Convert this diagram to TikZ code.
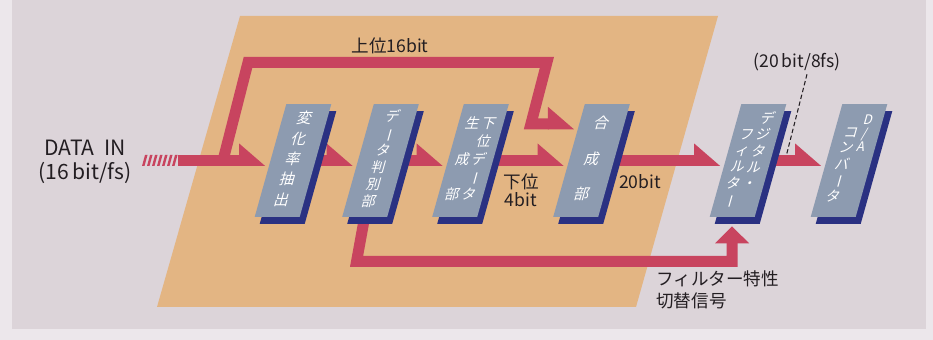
\documentclass[tikz,border=0pt]{standalone}
\usepackage{fontspec}
\setmainfont{Noto Sans CJK JP}
\usepackage{graphicx}
\usepackage{tikz}
\usetikzlibrary{arrows.meta, calc, shadows}
\definecolor{panel}{HTML}{DCD4D9}
\definecolor{rim}{HTML}{ECE7EB}
\definecolor{tan}{HTML}{E3B583}
\definecolor{flowred}{HTML}{C8445F}
\definecolor{slab}{HTML}{8D9BB0}
\definecolor{slabside}{HTML}{2A3182}
\definecolor{ink}{HTML}{231E22}
\pgfdeclarelayer{back}
\pgfdeclarelayer{flow}
\pgfsetlayers{back,flow,main}
\tikzset{
  blk/.style={rectangle, fill=slab, xslant=0.28, transform shape,
              minimum width=0.9cm, minimum height=2.26cm, inner sep=0pt,
              text=white, font=\fontsize{8}{9.5}\selectfont,
              drop shadow={shadow xshift=0.1cm, shadow yshift=-0.14cm,
                           fill=slabside, opacity=1}},
  lbl/.style={text=ink, font=\fontsize{10}{10.5}\selectfont,
              inner sep=0pt, align=center},
  band/.style={draw=flowred, line width=0.22cm},
  leader/.style={draw=ink, line width=0.6pt, dash pattern=on 2.5pt off 1.5pt},
  headin/.pic={\fill[flowred] (-5,5.5) -- (-31,5.5) -- (-31,-17) -- cycle;},
}
\newcommand{\tcol}[1]{\begin{tabular}[t]{@{}c@{}}#1\end{tabular}}
\newcommand{\vbar}{\rotatebox[origin=c]{-90}{ー}}

\begin{document}
\begin{tikzpicture}[x=0.02cm,y=-0.02cm]
  \useasboundingbox (0,0) rectangle (933,340);
  % panel and tilted board
  \begin{pgfonlayer}{back}
    \fill[rim] (0,0) rectangle (933,340);
    \fill[panel] (12,0) rectangle (926,329);
    \fill[tan] (157,307) -- (636,307) -- (718,16) -- (240,16) -- cycle;
  \end{pgfonlayer}

  % blocks
  \node[blk, font=\fontsize{8.5}{11.6}\selectfont] (b1) at (293,160.5)
        {\tcol{変\\化\\率\\抽\\出}};
  \node[blk, font=\fontsize{8}{9.7}\selectfont] (b2) at (380.5,160.5)
        {\tcol{デ\\\vbar\\タ\\判\\別\\部}};
  \node[blk, font=\fontsize{8}{10.2}\selectfont] (b3) at (470.5,160.5)
        {\tcol{生\\ \\成\\ \\部}\,\tcol{下\\位\\デ\\\vbar\\タ}};
  \node[blk, font=\fontsize{8.5}{10}\selectfont] (b4) at (591.5,160.5)
        {\tcol{合\\ \\成\\ \\部}};
  \node[blk, font=\fontsize{8}{9.2}\selectfont] (b5) at (748,160.5)
        {\raisebox{-9pt}{\tcol{フ\\ィ\\ル\\タ\\\vbar}}\,\tcol{デ\\ジ\\タ\\ル\\・}};
  \node[blk, font=\fontsize{8}{9}\selectfont] (b6) at (849,160.5)
        {\raisebox{-7pt}{\tcol{コ\\ン\\バ\\\vbar\\タ}}\,%
         {\fontsize{7.5}{6}\selectfont\tcol{D\\/\\A}}};

  % labels
  \node[lbl, font=\fontsize{12}{13.4}\selectfont] (datain) at (85,162)
        {DATA\ \ IN\\(16\,bit/fs)};
  \node[lbl] (hi) at (390,46) {上位16bit};
  \node[lbl] (lo) at (521,190) {下位\\4bit};
  \node[lbl] (w20) at (640,182) {20bit};
  \node[lbl] (rate) at (797,62) {(20\,bit/8fs)};
  \node[lbl, anchor=west, align=left, font=\fontsize{10}{12.5}\selectfont]
        (sel) at (656,290) {フィルター特性\\切替信号};

  % data paths
  \begin{pgfonlayer}{flow}
    \coordinate (in) at (142,160.5);
    \coordinate (feed) at ($(in)+(36,0)$);
    \coordinate (split) at ($(in)+(81,0)$);
    \coordinate (b4up) at ($(b4.north west)!0.177!(b4.south west)$);
    \foreach \i in {0,...,6}
      \fill[flowred] ($(in)+(5*\i,5.5)$) -- ++(2.5,0) -- ++(3,-11)
                     -- ++(-2.5,0) -- cycle;
    \draw[band, shorten >=0.6cm] (feed) -- (b1);
    \pic at (b1.west) {headin};
    \foreach \a/\b in {b1/b2, b2/b3, b3/b4, b4/b5, b5/b6} {
      \draw[band, shorten >=0.6cm] (\a) -- (\b);
      \pic at (\b.west) {headin};
    }
    % upper 16 bit bypass
    \draw[band, shorten >=0.6cm] (split) -- ++(25,-98)
          -- ($(b4up)+(-32,-61.5)$) -- ($(b4up)+(-48,0)$) -- (b4up);
    \pic at (b4up) {headin};
    % filter select signal
    \draw[band, -{Triangle[length=0.34cm,width=0.66cm]}, shorten >=0.18cm]
          (b2.south) -- ++(-8,44) -| (b5.south);
  \end{pgfonlayer}

  \coordinate (tap) at ($(b5.east)!0.28!(b6.west)+(0,-5)$);
  \draw[leader] ($(rate.south)+(10,3)$) -- (tap);
\end{tikzpicture}
\end{document}
